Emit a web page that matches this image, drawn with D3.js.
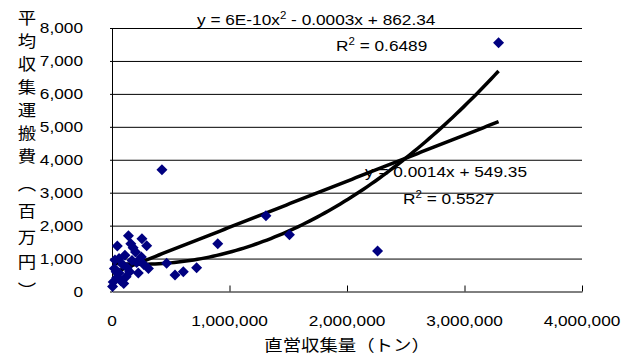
<!DOCTYPE html>
<html>
<head>
<meta charset="utf-8">
<script src="https://cdn.jsdelivr.net/npm/d3@7"></script>
<style>
  body { margin: 0; background: #fff; }
  text { font-family: "Liberation Sans", Arial, sans-serif; fill: #000; }
  .jp { font-family: "Noto Sans CJK JP", sans-serif; }
</style>
</head>
<body>
<div id="vis"></div>
<script>
// 直営収集量 (t) vs 平均収集運搬費 (百万円)
var tonnage = [3290000, 2260000, 1310000, 1510000, 900000, 425000, 720000, 607000, 536000, 465000,
  45000, 140000, 255000, 295000, 200000, 180000, 310000, 224000, 10000, 100000,
  25000, 60000, 130000, 90000, 170000, 210000, 270000, 40000, 75000, 120000,
  150000, 20000, 60000, 250000, 160000, 5000, 110000, 35000];
var cost = [7550, 1230, 2300, 1720, 1450, 3700, 720, 600, 500, 860,
  1380, 1690, 1600, 1390, 1200, 1330, 700, 560, 290, 240,
  960, 560, 720, 820, 940, 880, 820, 420, 330, 450,
  600, 700, 1000, 1050, 1450, 150, 1100, 600];

var xTicks = [0, 1000000, 2000000, 3000000, 4000000];
var yTicks = [0, 1000, 2000, 3000, 4000, 5000, 6000, 7000, 8000];

// trendline coefficients
var quadCoef = [6.3e-10, -0.0003, 862.34];
var linCoef = [0.0014, 549.35];

var width = 634, height = 359;
var svg = d3.select("#vis").append("svg")
  .attr("width", width)
  .attr("height", height);

var x = d3.scaleLinear().domain([0, 4000000]).range([112, 582]);
var y = d3.scaleLinear().domain([0, 8000]).range([291.5, 28]);

var fmt = d3.format(",");

function txt(g, px, py, str, anchor, cls) {
  return g.append("text")
    .attr("class", cls || null)
    .attr("transform", "translate(" + px + "," + py + ") scale(1.15,1)")
    .attr("text-anchor", anchor || "start")
    .style("font-size", "15px")
    .text(str);
}

// gridlines
svg.append("g")
  .attr("transform", "translate(112,0)")
  .call(d3.axisLeft(y).tickValues(yTicks.slice(1)).tickSize(-470).tickFormat(""))
  .call(function(g) { g.select(".domain").remove(); })
  .selectAll("line").attr("stroke", "#000");

// y axis
svg.append("g")
  .attr("transform", "translate(112,0)")
  .call(d3.axisLeft(y).tickValues(yTicks).tickSize(2).tickSizeOuter(0).tickFormat(""))
  .call(function(g) { g.select(".domain").attr("stroke", "#000"); });

// x axis
svg.append("g")
  .attr("transform", "translate(0,291.5)")
  .call(d3.axisTop(x).tickValues(xTicks).tickSize(6).tickSizeOuter(0).tickFormat(""))
  .call(function(g) { g.select(".domain").attr("stroke", "#000"); });

// tick labels
var lab = svg.append("g");
yTicks.forEach(function(v) {
  txt(lab, 83, y(v) + 5, fmt(v), "end");
});
xTicks.forEach(function(v) {
  txt(lab, x(v), 326, fmt(v), "middle");
});

// axis titles
txt(lab, 347, 351, "直営収集量（トン）", "middle", "jp").style("font-size", "16px");
var yTitle = ["平", "均", "収", "集", "運", "搬", "費", "︵", "百", "万", "円", "︶"];
var yTitlePos = [18, 41, 64, 87, 110, 133, 156, 184, 211, 237, 262, 290];
yTitle.forEach(function(c, i) {
  txt(lab, 27, yTitlePos[i] + 6, c, "middle", "jp").style("font-size", "16px");
});

// trendline equations
var eq = svg.append("g");
var e1 = txt(eq, 197, 25, "y = 6E-10x");
e1.append("tspan").attr("dy", -6).style("font-size", "10px").text("2");
e1.append("tspan").attr("dy", 6).text(" -  0.0003x + 862.34");
var r1 = txt(eq, 336, 51, "R");
r1.append("tspan").attr("dy", -6).style("font-size", "10px").text("2");
r1.append("tspan").attr("dy", 6).text(" = 0.6489");
txt(eq, 365, 177, "y = 0.0014x + 549.35");
var r2 = txt(eq, 403, 204, "R");
r2.append("tspan").attr("dy", -6).style("font-size", "10px").text("2");
r2.append("tspan").attr("dy", 6).text(" = 0.5527");

// trendlines over the data range
var xMin = d3.min(tonnage), xMax = d3.max(tonnage);
var xs = d3.range(0, 101).map(function(i) { return xMin + (xMax - xMin) * i / 100; });
var line = d3.line()
  .x(function(d) { return x(d[0]); })
  .y(function(d) { return y(d[1]); });

svg.append("path")
  .datum(xs.map(function(v) { return [v, quadCoef[0] * v * v + quadCoef[1] * v + quadCoef[2]]; }))
  .attr("d", line)
  .attr("fill", "none")
  .attr("stroke", "#000")
  .attr("stroke-width", 3.5);

svg.append("path")
  .datum(xs.map(function(v) { return [v, linCoef[0] * v + linCoef[1]]; }))
  .attr("d", line)
  .attr("fill", "none")
  .attr("stroke", "#000")
  .attr("stroke-width", 3.5);

// points
var r = 5.5;
svg.append("g")
  .selectAll("path")
  .data(d3.zip(tonnage, cost))
  .enter()
  .append("path")
  .attr("transform", function(d) { return "translate(" + x(d[0]) + "," + y(d[1]) + ")"; })
  .attr("d", "M0," + (-r) + "L" + r + ",0L0," + r + "L" + (-r) + ",0Z")
  .attr("fill", "#000080");
</script>
</body>
</html>
